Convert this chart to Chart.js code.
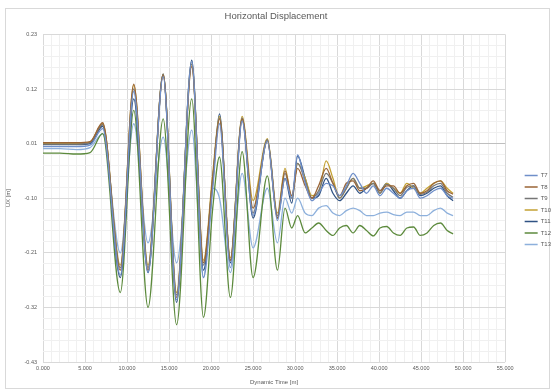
<!DOCTYPE html>
<html>
<head>
<meta charset="utf-8">
<script src="https://cdn.jsdelivr.net/npm/chart.js@4/dist/chart.umd.min.js"></script>
<style>
  body { margin: 0; background: #fff; }
</style>
</head>
<body>
<canvas id="grafico" width="555" height="390"></canvas>
<script>
// dados
const seriesNames = ["T7", "T8", "T9", "T10", "T11", "T12", "T13"];
const seriesColors = ["#6f8fc9", "#9a6536", "#767676", "#c3a032", "#2f5283", "#5c8a3c", "#8db0dc"];
const yTickLabels = ["0.23", "0.12", "0.01", "-0.10", "-0.21", "-0.32", "-0.43"];

const times = [0, 2, 4, 5.6, 7.1, 9.2, 10.8, 12.5, 14.3, 15.9, 17.7, 19.1, 20.2, 21.0, 22.3,
  23.7, 25.0, 26.7, 27.9, 28.8, 29.6, 30.3, 31.2, 32.0, 32.8, 33.7, 34.5, 35.3, 36.1, 36.9,
  37.7, 38.5, 39.3, 40.1, 40.9, 41.7, 42.5, 43.3, 44.1, 44.9, 45.7, 46.5, 47.3, 48.1, 48.8];

const t7 = [0.004, 0.004, 0.004, 0.007, 0.04, -0.255, 0.115, -0.25, 0.145, -0.305, 0.175, -0.26, -0.08, 0.05, -0.24,
  0.055, -0.135, 0.015, -0.145, -0.06, -0.10, -0.013, -0.07, -0.105, -0.09, -0.07, -0.075, -0.095, -0.075, -0.05,
  -0.07, -0.09, -0.075, -0.095, -0.08, -0.09, -0.10, -0.085, -0.08, -0.10, -0.095, -0.085, -0.08, -0.095, -0.10];
const t8 = [0.012, 0.012, 0.012, 0.014, 0.052, -0.245, 0.13, -0.245, 0.148, -0.30, 0.165, -0.23, -0.06, 0.06, -0.225,
  0.06, -0.12, 0.015, -0.14, -0.045, -0.095, -0.04, -0.075, -0.10, -0.075, -0.04, -0.07, -0.095, -0.07, -0.065,
  -0.085, -0.08, -0.065, -0.085, -0.075, -0.075, -0.09, -0.075, -0.07, -0.09, -0.085, -0.07, -0.065, -0.085, -0.092];
const t9 = [0.009, 0.009, 0.009, 0.012, 0.048, -0.24, 0.12, -0.24, 0.15, -0.295, 0.17, -0.235, -0.06, 0.062, -0.225,
  0.062, -0.13, 0.018, -0.135, -0.05, -0.10, -0.03, -0.065, -0.10, -0.085, -0.05, -0.07, -0.10, -0.08, -0.06,
  -0.08, -0.08, -0.07, -0.09, -0.072, -0.08, -0.095, -0.078, -0.075, -0.092, -0.088, -0.075, -0.07, -0.09, -0.098];
const t10 = [0.010, 0.010, 0.010, 0.013, 0.05, -0.235, 0.128, -0.235, 0.15, -0.29, 0.17, -0.225, -0.05, 0.065, -0.22,
  0.065, -0.105, 0.02, -0.13, -0.04, -0.10, -0.03, -0.06, -0.095, -0.09, -0.025, -0.06, -0.10, -0.08, -0.06,
  -0.08, -0.075, -0.07, -0.09, -0.07, -0.08, -0.09, -0.07, -0.08, -0.09, -0.08, -0.07, -0.065, -0.08, -0.09];
const t11 = [0.008, 0.008, 0.008, 0.01, 0.045, -0.26, 0.10, -0.25, 0.15, -0.31, 0.178, -0.245, -0.07, 0.07, -0.23,
  0.06, -0.14, 0.018, -0.14, -0.06, -0.11, -0.015, -0.06, -0.10, -0.095, -0.06, -0.09, -0.105, -0.09, -0.075,
  -0.09, -0.08, -0.07, -0.085, -0.07, -0.085, -0.10, -0.085, -0.075, -0.095, -0.09, -0.08, -0.075, -0.095, -0.105];
const t12 = [-0.009, -0.009, -0.011, -0.008, 0.03, -0.29, 0.077, -0.32, 0.06, -0.355, 0.10, -0.34, -0.12, -0.017, -0.30,
  -0.006, -0.26, -0.055, -0.245, -0.12, -0.16, -0.135, -0.17, -0.16, -0.15, -0.165, -0.175, -0.16, -0.155, -0.17,
  -0.155, -0.165, -0.176, -0.16, -0.157, -0.17, -0.175, -0.16, -0.158, -0.175, -0.17, -0.155, -0.15, -0.165, -0.172];
const t13 = [0.0, 0.0, -0.002, 0.002, 0.03, -0.21, 0.05, -0.19, 0.023, -0.23, 0.037, -0.26, -0.08, -0.10, -0.25,
  -0.05, -0.20, -0.08, -0.19, -0.10, -0.13, -0.10, -0.13, -0.135, -0.12, -0.115, -0.13, -0.135, -0.125, -0.12,
  -0.125, -0.135, -0.135, -0.13, -0.128, -0.133, -0.135, -0.128, -0.128, -0.135, -0.135, -0.125, -0.12, -0.13, -0.135];

const allSeries = [t7, t8, t9, t10, t11, t12, t13];

// montando os datasets
const datasets = allSeries.map((vals, i) => ({
  label: seriesNames[i],
  data: times.map((t, j) => ({ x: t, y: vals[j] })),
  borderColor: seriesColors[i],
  backgroundColor: seriesColors[i],
  borderWidth: 1.3,
  pointRadius: 0,
  cubicInterpolationMode: "monotone"
}));

const fundo = {
  id: "fundo",
  beforeDraw(chart) {
    const c = chart.ctx;
    c.save();
    c.fillStyle = "#fff";
    c.fillRect(0, 0, chart.width, chart.height);
    c.strokeStyle = "#d9d9d9";
    c.lineWidth = 1;
    c.strokeRect(5.5, 8.5, 544, 380);
    c.restore();
  }
};

// empurra a legenda para a direita e para baixo como no Excel
const moveLegenda = {
  id: "moveLegenda",
  afterLayout(chart) {
    chart.legend.left += 14;
    chart.legend.right += 14;
    chart.legend.top += 13;
    chart.legend.bottom += 13;
  }
};

const ctx = document.getElementById("grafico").getContext("2d");
const myChart = new Chart(ctx, {
  type: "line",
  data: { datasets: datasets },
  plugins: [fundo, moveLegenda],
  options: {
    responsive: false,
    animation: false,
    layout: { padding: { left: 5, right: 8, top: 8, bottom: 4 } },
    plugins: {
      title: {
        display: true,
        text: "Horizontal Displacement",
        color: "#595959",
        font: { family: "Liberation Sans", size: 9.5, weight: "normal" },
        padding: { top: 3, bottom: 12 }
      },
      legend: {
        position: "right",
        labels: {
          usePointStyle: true,
          pointStyle: "line",
          pointStyleWidth: 13,
          color: "#595959",
          font: { family: "Liberation Sans", size: 6 },
          padding: 5.5
        }
      },
      tooltip: { enabled: false }
    },
    scales: {
      x: {
        type: "linear",
        min: 0,
        max: 55,
        afterFit: s => { s.height = 24; },
        ticks: {
          stepSize: 1,
          autoSkip: false,
          maxRotation: 0,
          padding: 3,
          color: "#595959",
          font: { family: "Liberation Sans", size: 5.5 },
          callback: v => (v % 5 === 0 ? v.toFixed(3) : "")
        },
        grid: {
          drawTicks: false,
          color: c => (c.tick && c.tick.value % 5 === 0 ? "#d9d9d9" : "#f0f0f0"),
          lineWidth: 1
        },
        border: { display: false },
        title: {
          display: true,
          text: "Dynamic Time [m]",
          color: "#595959",
          font: { family: "Liberation Sans", size: 6 },
          padding: { top: 2, bottom: 0 }
        }
      },
      y: {
        min: -0.43,
        max: 0.23,
        afterFit: s => { s.width = 38; },
        ticks: {
          stepSize: 0.022,
          autoSkip: false,
          padding: 6,
          color: "#595959",
          font: { family: "Liberation Sans", size: 5.5 },
          callback: function (v) {
            const k = Math.round((0.23 - v) / 0.022);
            return k % 5 === 0 ? yTickLabels[k / 5] : "";
          }
        },
        grid: {
          drawTicks: false,
          color: c => {
            if (!c.tick) return "#f0f0f0";
            const k = Math.round((0.23 - c.tick.value) / 0.022);
            if (k === 10) return "#bfbfbf";
            return k % 5 === 0 ? "#d9d9d9" : "#f0f0f0";
          },
          lineWidth: 1
        },
        border: { display: false },
        title: {
          display: true,
          text: "UX [m]",
          color: "#595959",
          font: { family: "Liberation Sans", size: 6 },
          padding: { top: 0, bottom: 2 }
        }
      }
    }
  }
});
</script>
</body>
</html>
